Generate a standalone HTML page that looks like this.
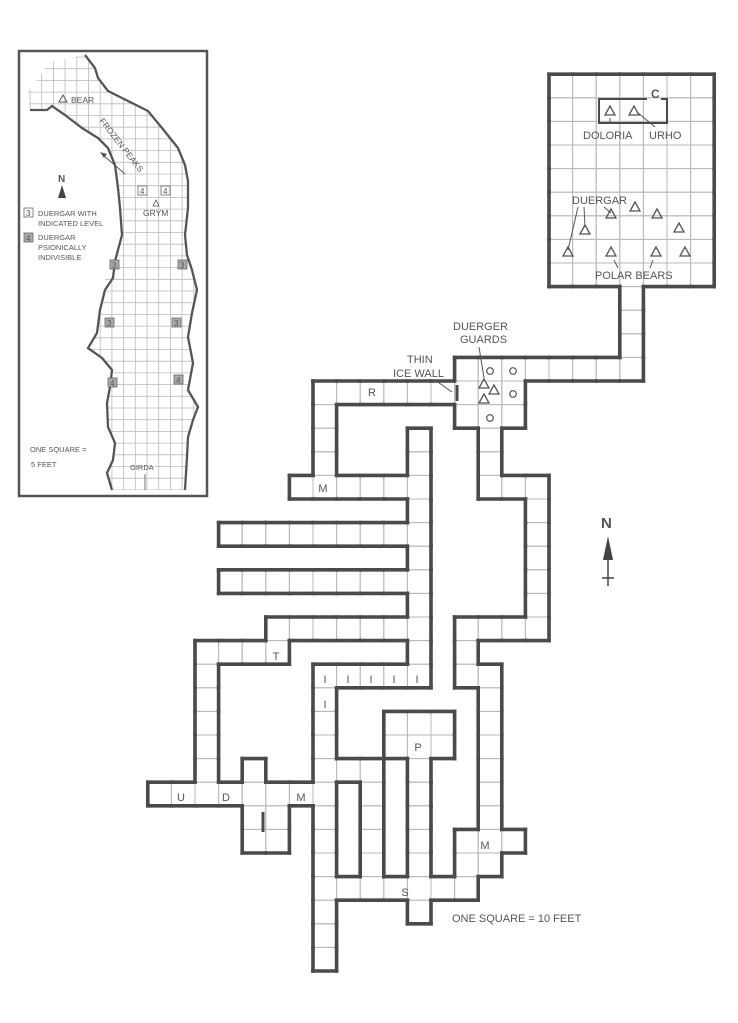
<!DOCTYPE html>
<html><head><meta charset="utf-8">
<style>
html,body{margin:0;padding:0;background:#fff;}
svg{display:block;}
text{font-family:"Liberation Sans",sans-serif;fill:#555;}
</style></head>
<body>
<svg id="s" width="738" height="1023" viewBox="0 0 738 1023" xmlns="http://www.w3.org/2000/svg">
<rect width="738" height="1023" fill="#fff"/>
<g id="grid"></g>
<g id="walls"></g>
<!-- ice walls -->
<line x1="457" y1="385" x2="457" y2="401" stroke="#4a4a4a" stroke-width="3"/>
<line x1="263" y1="812" x2="263" y2="832" stroke="#4a4a4a" stroke-width="3"/>
<!-- room contents -->
<polyline points="647,99 599,99 599,123 667,123 667,99 661,99" fill="none" stroke="#4a4a4a" stroke-width="2"/>
<text x="651" y="98" font-size="12" font-weight="bold">C</text>
<g fill="none" stroke="#555" stroke-width="1.3" id="tris"></g>
<text x="583" y="139" font-size="11">DOLORIA</text>
<text x="649" y="139" font-size="11">URHO</text>
<line x1="610" y1="124" x2="610" y2="118" stroke="#555" stroke-width="1"/>
<line x1="637" y1="112" x2="655" y2="127" stroke="#555" stroke-width="1"/>
<text x="572" y="204" font-size="11">DUERGAR</text>
<line x1="578" y1="207" x2="568" y2="250" stroke="#555" stroke-width="1"/>
<line x1="584" y1="207" x2="585" y2="227" stroke="#555" stroke-width="1"/>
<line x1="604" y1="207" x2="611" y2="213" stroke="#555" stroke-width="1"/>
<text x="595" y="279" font-size="11">POLAR BEARS</text>
<line x1="614" y1="260" x2="618" y2="268" stroke="#555" stroke-width="1"/>
<line x1="653" y1="260" x2="650" y2="268" stroke="#555" stroke-width="1"/>
<!-- junction -->
<g fill="none" stroke="#555" stroke-width="1.2">
<circle cx="490" cy="371" r="3.3"/><circle cx="513" cy="371" r="3.3"/>
<circle cx="513" cy="394" r="3.3"/><circle cx="490" cy="418" r="3.3"/>
</g>
<text x="453" y="330" font-size="11">DUERGER</text>
<text x="460" y="343" font-size="11">GUARDS</text>
<line x1="479" y1="347" x2="484" y2="378" stroke="#555" stroke-width="1"/>
<text x="407" y="363" font-size="11">THIN</text>
<text x="393" y="377" font-size="11">ICE WALL</text>
<line x1="435" y1="380" x2="452" y2="392" stroke="#555" stroke-width="1"/>
<g id="lbl" font-size="11"></g>
<!-- compass -->
<text x="601" y="528" font-size="15" font-weight="bold" fill="#444">N</text>
<polygon points="608,536 603,560 613,560" fill="#444"/>
<line x1="608" y1="558" x2="608" y2="586" stroke="#444" stroke-width="1.5"/>
<line x1="602" y1="578" x2="614" y2="578" stroke="#444" stroke-width="1.5"/>
<text x="452" y="922" font-size="11">ONE SQUARE  =  10 FEET</text>

<!-- inset -->
<rect x="19" y="51" width="188" height="445" fill="none" stroke="#555" stroke-width="2.5"/>
<defs><clipPath id="cp"><polygon points="50,62 85,55 95,68 98,78 108,91 128,101 148,111 162,128 178,148 185,165 188,181 188,208 185,235 187,255 188,278 192,270 197,290 192,313 188,337 193,363 188,390 198,407 193,420 188,437 187,457 185,490 112,490 107,473 113,460 115,443 108,427 107,403 110,387 112,370 102,358 88,348 97,333 100,310 105,290 105,270 113,278 115,261 122,235 120,208 118,188 115,165 108,148 98,138 82,128 65,115 52,106 47,110 30,110 28,92"/></clipPath></defs>
<g id="ig" clip-path="url(#cp)" stroke="#bbb" stroke-width="0.8"></g>
<polyline fill="none" stroke="#555" stroke-width="2.3" points="30,110 47,110 52,106 65,115 82,128 98,138 108,148 115,165 118,188 120,208 122,235 115,261 113,278 105,290 100,310 97,333 88,348 102,358 112,370 110,387 107,403 108,427 115,443 113,460 107,473 112,490"/>
<polyline fill="none" stroke="#555" stroke-width="2.3" points="85,55 95,68 98,78 108,91 128,101 148,111 162,128 178,148 185,165 188,181 188,208 185,235 187,255 192,270 197,290 192,313 188,337 193,363 188,390 198,407 193,420 188,437 187,457 185,490"/>
<polygon points="63,95 59,102 67,102" fill="none" stroke="#555" stroke-width="1"/>
<text x="71" y="103" font-size="8.5">BEAR</text>
<text x="0" y="0" font-size="8.5" transform="translate(99,121) rotate(52)">FROZEN PEAKS</text>
<line x1="125" y1="174" x2="103" y2="155" stroke="#555" stroke-width="1"/>
<polygon points="100,152 107,154 104,158" fill="#555"/>
<text x="58" y="182" font-size="10" font-weight="bold" fill="#444">N</text>
<polygon points="62,185 58,198 66,198" fill="#444"/>
<g font-size="8">
<rect x="138" y="186" width="9" height="9" fill="#fff" stroke="#666" stroke-width="0.8"/><text x="140" y="194">4</text>
<rect x="161" y="186" width="9" height="9" fill="#fff" stroke="#666" stroke-width="0.8"/><text x="163" y="194">4</text>
<rect x="24" y="208" width="9" height="9" fill="#fff" stroke="#666" stroke-width="0.8"/><text x="26" y="216">3</text>
<rect x="24" y="233" width="9" height="9" fill="#aaa" stroke="#666" stroke-width="0.8"/><text x="26" y="241">4</text>
<rect x="110" y="260" width="9" height="9" fill="#aaa" stroke="#666" stroke-width="0.8"/><text x="112" y="268">3</text>
<rect x="178" y="260" width="9" height="9" fill="#aaa" stroke="#666" stroke-width="0.8"/><text x="180" y="268">3</text>
<rect x="105" y="318" width="9" height="9" fill="#aaa" stroke="#666" stroke-width="0.8"/><text x="107" y="326">3</text>
<rect x="172" y="318" width="9" height="9" fill="#aaa" stroke="#666" stroke-width="0.8"/><text x="174" y="326">3</text>
<rect x="108" y="378" width="9" height="9" fill="#aaa" stroke="#666" stroke-width="0.8"/><text x="110" y="386">4</text>
<rect x="174" y="375" width="9" height="9" fill="#aaa" stroke="#666" stroke-width="0.8"/><text x="176" y="383">4</text>
</g>
<polygon points="156,200 153,206 159,206" fill="none" stroke="#555" stroke-width="0.8"/>
<text x="143" y="216" font-size="8.5">GRYM</text>
<g font-size="7.5">
<text x="38" y="216">DUERGAR WITH</text>
<text x="38" y="226">INDICATED LEVEL</text>
<text x="38" y="240">DUERGAR</text>
<text x="38" y="250">PSIONICALLY</text>
<text x="38" y="260">INDIVISIBLE</text>
<text x="30" y="452">ONE SQUARE =</text>
<text x="31" y="467">5 FEET</text>
<text x="130" y="470">GIRDA</text>
</g>
<line x1="145" y1="474" x2="145" y2="490" stroke="#555" stroke-width="0.8"/>
</svg>
<script>
(function(){
var X0=313,Y0=381,S=23.6,NS="http://www.w3.org/2000/svg";
var cells={};
function add(c1,c2,r1,r2){for(var c=c1;c<=c2;c++)for(var r=r1;r<=r2;r++)cells[c+","+r]=1;}
add(10,16,-13,-5);add(13,13,-4,-2);add(6,13,-1,-1);add(6,8,0,1);add(0,5,0,0);
add(0,0,1,3);add(-1,3,4,4);add(4,4,2,12);
add(-4,3,6,6);add(-4,3,8,8);add(-2,3,10,10);add(-5,-2,11,11);
add(-5,-5,12,16);add(-7,0,17,17);add(-3,-3,16,16);add(-3,-2,18,19);
add(0,4,12,12);add(0,0,13,24);
add(1,1,16,16);add(2,2,16,21);add(3,5,14,15);add(4,4,16,22);add(1,6,21,21);
add(6,8,19,19);add(6,7,20,20);
add(7,7,2,3);add(7,9,4,4);add(9,9,5,9);add(6,9,10,10);add(6,6,11,11);add(6,7,12,12);add(7,7,13,20);
var g=document.getElementById("grid"),w=document.getElementById("walls");
function el(p,tag,a){var e=document.createElementNS(NS,tag);for(var k in a)e.setAttribute(k,a[k]);p.appendChild(e);return e;}
var segs=[];
for(var key in cells){var p=key.split(",").map(Number),c=p[0],r=p[1];
 var x=X0+c*S,y=Y0+r*S;
 el(g,"rect",{x:x,y:y,width:S,height:S,fill:"none",stroke:"#b8b8b8","stroke-width":1});
 if(!cells[c+","+(r-1)])segs.push([x,y,x+S,y]);
 if(!cells[c+","+(r+1)])segs.push([x,y+S,x+S,y+S]);
 if(!cells[(c-1)+","+r])segs.push([x,y,x,y+S]);
 if(!cells[(c+1)+","+r])segs.push([x+S,y,x+S,y+S]);
}
segs.forEach(function(s){el(w,"line",{x1:s[0],y1:s[1],x2:s[2],y2:s[3],stroke:"#4a4a4a","stroke-width":3.6,"stroke-linecap":"square"});});
var tg=document.getElementById("tris");
[[610,111],[634,111],[611,214],[635,207],[657,214],[585,230],[679,228],[568,252],[611,252],[656,252],[685,252],[484,384],[494,390],[484,399]].forEach(function(t){
 el(tg,"polygon",{points:(t[0])+","+(t[1]-5)+" "+(t[0]-5)+","+(t[1]+4)+" "+(t[0]+5)+","+(t[1]+4)});});
var lg=document.getElementById("lbl");
[["R",372,396],["M",323,492],["T",276,660],["I",325,683],["I",348,683],["I",371,683],["I",394,683],["I",417,683],["I",325,708],
 ["U",181,801],["D",226,801],["M",301,801],["P",418,751],["M",485,849],["S",405,896]].forEach(function(l){
 var t=el(lg,"text",{x:l[1],y:l[2],"text-anchor":"middle"});t.textContent=l[0];});
var ig=document.getElementById("ig");
for(var x=30;x<205;x+=11.7)el(ig,"line",{x1:x,y1:50,x2:x,y2:495});
for(var y=57;y<495;y+=11.7)el(ig,"line",{x1:20,y1:y,x2:205,y2:y});
})();
</script>
</body></html>
